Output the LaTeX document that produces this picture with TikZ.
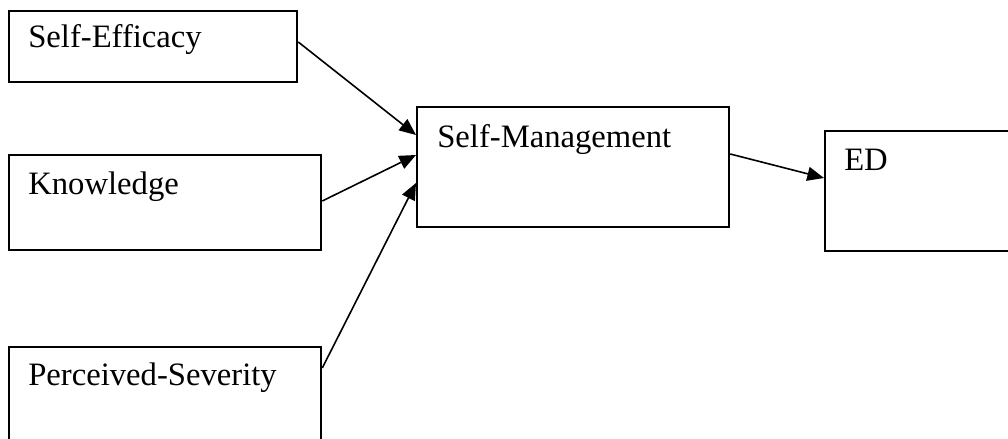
\documentclass[tikz,border=0pt]{standalone}
\usepackage{fontspec}
\setmainfont{Liberation Serif}
\usetikzlibrary{arrows.meta,calc}
\begin{document}
\begin{tikzpicture}[x=0.75pt,y=-0.75pt,
 box/.style={draw,line width=1.7pt,rectangle,inner sep=0pt,anchor=north west},
 lbl/.style={anchor=base west,inner sep=0pt,font=\fontsize{24.5}{28}\selectfont},
 conn/.style={line width=1.2pt,-{Triangle[length=12.5pt,width=10.5pt]}}]
\useasboundingbox (0,0) rectangle (1008,439);
\node[box,minimum width=216pt,minimum height=53.25pt] (se) at (8,10) {};
\node[box,minimum width=234pt,minimum height=71.25pt] (kn) at (8,154) {};
\node[box,minimum width=234pt,minimum height=75pt] (ps) at (8,346) {};
\node[box,minimum width=234pt,minimum height=90pt] (sm) at (416,106) {};
\node[box,minimum width=177pt,minimum height=90pt] (ed) at (824,130) {};
\node[lbl] (tse) at (28,47) {Self-Efficacy};
\node[lbl] (tkn) at (28,194) {Knowledge};
\node[lbl] (tps) at (28,385) {Perceived-Severity};
\node[lbl] (tsm) at (437,147) {Self-Management};
\node[lbl] (ted) at (844,170) {ED};
\draw[conn] ($(se.north east)+(0,32)$) -- ($(sm.north west)+(0,29)$);
\draw[conn] ($(kn.north east)+(0,47)$) -- ($(sm.north west)+(0,49)$);
\draw[conn] ($(ps.north east)+(0,22)$) -- ($(sm.north west)+(0,77)$);
\draw[conn] ($(sm.north east)+(0,48)$) -- ($(ed.north west)+(0,48)$);
\end{tikzpicture}
\end{document}
